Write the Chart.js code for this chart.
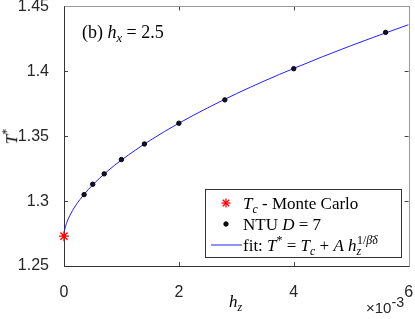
<!DOCTYPE html>
<html>
<head>
<meta charset="utf-8">
<script src="https://cdn.jsdelivr.net/npm/chart.js@4.4.1/dist/chart.umd.min.js"></script>
<style>
  html, body { margin: 0; padding: 0; background: #fff; }
  #wrap { position: relative; width: 415px; height: 319px; overflow: hidden; }
  .tx { position: absolute; font-family: "Liberation Serif", "DejaVu Serif", serif; color: #000; white-space: nowrap; line-height: 1; }
  .sans { font-family: "Liberation Sans", Arial, sans-serif; color: #262626; }
  sub { vertical-align: -0.3em; font-size: 70%; line-height: 0; }
  sup { vertical-align: 0.55em; font-size: 70%; line-height: 0; }
  .eq { margin: 0 0.25em; }
  #legend { position: absolute; left: 205px; top: 189px; width: 197px; height: 69px; border: 1px solid #333; background: #fff; box-sizing: border-box; }
  #legend .row { position: absolute; left: 0; height: 20px; width: 196px; }
  #legend svg { position: absolute; left: 4px; top: 0; }
  #legend .lab { position: absolute; left: 37px; top: 2px; font-family: "Liberation Serif", "DejaVu Serif", serif; font-size: 17px; line-height: 1; white-space: nowrap; }
</style>
</head>
<body>
<div id="wrap">
  <canvas id="chart" width="415" height="319"></canvas>
  <div class="tx" style="left:82px; top:23px; font-size:18px;">(b) <i>h</i><sub><i>x</i></sub><span class="eq">=</span>2.5</div>
  <div class="tx" style="left:4px; top:128px; font-size:17px; transform: rotate(-90deg);"><i>T</i><sup>*</sup></div>
  <div class="tx" style="left:229px; top:293px; font-size:17px;"><i>h</i><sub><i>z</i></sub></div>
  <div class="tx sans" style="left:366px; top:300px; font-size:15px;">&times;10<sup style="font-size:95%; vertical-align:0.4em;">-3</sup></div>
  <div id="legend">
    <div class="row" style="top:3px;">
      <svg width="32" height="20"><g stroke="#ff0000" stroke-width="1.3"><line x1="16" y1="5.5" x2="16" y2="14.5"/><line x1="11.5" y1="10" x2="20.5" y2="10"/><line x1="12.8" y1="6.8" x2="19.2" y2="13.2"/><line x1="12.8" y1="13.2" x2="19.2" y2="6.8"/></g></svg>
      <div class="lab"><i>T</i><sub><i>c</i></sub> - Monte Carlo</div>
    </div>
    <div class="row" style="top:24px;">
      <svg width="32" height="20"><circle cx="16" cy="10" r="2.2" fill="#111" stroke="#000"/></svg>
      <div class="lab">NTU <i>D</i><span class="eq">=</span>7</div>
    </div>
    <div class="row" style="top:45px;">
      <svg width="32" height="20"><line x1="1" y1="10" x2="32" y2="10" stroke="#2020ff" stroke-width="1"/></svg>
      <div class="lab">fit: <i>T</i><sup>*</sup><span class="eq">=</span><i>T</i><sub><i>c</i></sub> + <i>A</i> <i>h</i><sub><i>z</i></sub><sup style="margin-left:-0.35em;">1/<i>&beta;&#772;&delta;</i></sup></div>
    </div>
  </div>
</div>
<script>
// h_z in units of 1e-3
var mcX = [0];
var mcY = [1.273];

var ntuX = [0.35, 0.5, 0.7, 1.0, 1.4, 2.0, 2.8, 4.0, 5.6];
var ntuY = [1.305, 1.313, 1.321, 1.332, 1.344, 1.360, 1.378, 1.402, 1.430];

var fitX = [0, 0.005, 0.02, 0.05, 0.1, 0.2, 0.35, 0.5, 0.75, 1.0, 1.5, 2.0, 2.5, 3.0, 3.5, 4.0, 4.5, 5.0, 5.5, 6.0];
var fitY = [1.273, 1.2758, 1.2793, 1.2836, 1.2887, 1.2964, 1.3052, 1.3125, 1.3228, 1.3316, 1.3468, 1.3600, 1.3718, 1.3827, 1.3928, 1.4022, 1.4112, 1.4198, 1.4280, 1.4359];

var xTicks = [0, 2, 4, 6];
var yTicks = [1.25, 1.3, 1.35, 1.4, 1.45];

function pairs(xs, ys) {
  return xs.map(function (x, i) { return { x: x, y: ys[i] }; });
}

var boxPlugin = {
  id: 'boxPlugin',
  beforeDatasetsDraw: function (chart) {
    var ctx = chart.ctx, a = chart.chartArea;
    var xs = chart.scales.x, ys = chart.scales.y;
    var tl = 4;
    ctx.save();
    ctx.lineWidth = 1;
    ctx.strokeStyle = '#444';
    ctx.beginPath();
    xs.ticks.forEach(function (t) {
      var px = Math.round(xs.getPixelForValue(t.value)) + 0.5;
      ctx.moveTo(px, a.bottom); ctx.lineTo(px, a.bottom - tl);
      ctx.moveTo(px, a.top); ctx.lineTo(px, a.top + tl);
    });
    ys.ticks.forEach(function (t) {
      var py = Math.round(ys.getPixelForValue(t.value)) + 0.5;
      ctx.moveTo(a.left, py); ctx.lineTo(a.left + tl, py);
      ctx.moveTo(a.right, py); ctx.lineTo(a.right - tl, py);
    });
    ctx.stroke();
    var l = Math.round(a.left) + 0.5, t = Math.round(a.top) + 0.5, r = Math.round(a.right) + 0.5, b = Math.round(a.bottom) + 0.5;
    // left and bottom axis lines darker, top and right box lines lighter
    ctx.strokeStyle = '#9a9a9a';
    ctx.beginPath(); ctx.moveTo(l, t); ctx.lineTo(r, t); ctx.lineTo(r, b); ctx.stroke();
    ctx.strokeStyle = '#333';
    ctx.beginPath(); ctx.moveTo(l, t); ctx.lineTo(l, b); ctx.lineTo(r, b); ctx.stroke();
    ctx.restore();
  }
};

document.addEventListener('DOMContentLoaded', function () {
  var tickFont = { family: '"Liberation Sans", Arial, sans-serif', size: 16, lineHeight: 1 };
  new Chart(document.getElementById('chart').getContext('2d'), {
    type: 'scatter',
    data: {
      datasets: [
        { label: 'Tc - Monte Carlo', data: pairs(mcX, mcY), pointStyle: 'star', pointRadius: 5, borderColor: '#ff0000', backgroundColor: '#ff0000', borderWidth: 1.4, clip: false, order: 0 },
        { label: 'NTU D = 7', data: pairs(ntuX, ntuY), pointStyle: 'circle', pointRadius: 2.2, backgroundColor: '#111133', borderColor: '#000', borderWidth: 1, clip: false, order: 1 },
        { label: 'fit', data: pairs(fitX, fitY), showLine: true, pointRadius: 0, borderColor: '#2020ff', borderWidth: 1, cubicInterpolationMode: 'monotone', order: 2 }
      ]
    },
    options: {
      responsive: false,
      animation: false,
      layout: { padding: { top: 6, right: 4, left: 0, bottom: 0 } },
      plugins: { legend: { display: false }, tooltip: { enabled: false } },
      scales: {
        x: {
          type: 'linear', min: 0, max: 6,
          afterBuildTicks: function (s) { s.ticks = xTicks.map(function (v) { return { value: v }; }); },
          afterFit: function (s) { s.height = 53; s.paddingLeft = 0; s.paddingRight = 0; },
          grid: { display: false }, border: { display: false },
          ticks: { color: '#262626', font: tickFont, padding: 11, maxRotation: 0 }
        },
        y: {
          type: 'linear', min: 1.25, max: 1.45,
          afterBuildTicks: function (s) { s.ticks = yTicks.map(function (v) { return { value: v }; }); },
          afterFit: function (s) { s.width = 64; s.paddingTop = 0; s.paddingBottom = 0; },
          grid: { display: false }, border: { display: false },
          ticks: { color: '#262626', font: tickFont, padding: 7, callback: function (v) { return String(v); } }
        }
      }
    },
    plugins: [boxPlugin]
  });
});
</script>
</body>
</html>
